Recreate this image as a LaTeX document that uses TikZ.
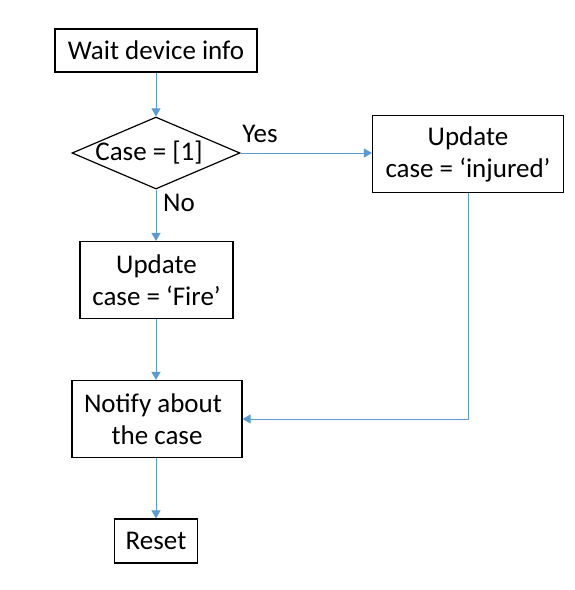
\documentclass[tikz,border=0pt]{standalone}
\usepackage{fontspec}
\setmainfont{Carlito}
\usetikzlibrary{shapes.geometric,arrows.meta}
\definecolor{linkblue}{RGB}{91,155,213}
\tikzset{
  box/.style={draw=black, line width=1.2pt, fill=white, inner sep=0pt, align=center,
    font=\fontsize{27}{32}\selectfont},
  dia/.style={draw=black, line width=1.2pt, shape=diamond, inner sep=0pt,
    minimum width=168pt, minimum height=72pt},
  lbl/.style={font=\fontsize{27}{32}\selectfont, inner sep=0pt},
  conn/.style={draw=linkblue, line width=1pt, -{Triangle[length=8pt,width=9pt]}}
}
\begin{document}
\begin{tikzpicture}[x=1pt,y=-1pt]
\useasboundingbox (0,0) rectangle (575,590);
\node[box, minimum width=202pt, minimum height=43pt] (w) at (156,50.5) {Wait device info};
\node[dia] (d) at (156,153) {};
\node[lbl] (dt) at (149,153) {Case = [1]};
\node[box, minimum width=191pt, minimum height=77pt] (inj) at (468,154) {Update\\case = ‘injured’};
\node[box, minimum width=153pt, minimum height=77pt] (f) at (156.5,280) {Update\\case = ‘Fire’};
\node[box, minimum width=170pt, minimum height=77pt] (n) at (157,419) {Notify about\hspace*{8pt}\\the case};
\node[box, minimum width=83pt, minimum height=44pt] (r) at (156,541) {Reset};
\node[lbl] (yes) at (260,134) {Yes};
\node[lbl] (no) at (179,203) {No};
\draw[conn] (w.south -| d.north) -- (d.north);
\draw[conn] (d.east) -- (d.east -| inj.west);
\draw[conn] (d.south) -- (d.south |- f.north);
\draw[conn] (d.south |- f.south) -- (d.south |- n.north);
\draw[conn] (d.south |- n.south) -- (d.south |- r.north);
\draw[conn] (inj.south) |- (n.east);
\end{tikzpicture}
\end{document}
